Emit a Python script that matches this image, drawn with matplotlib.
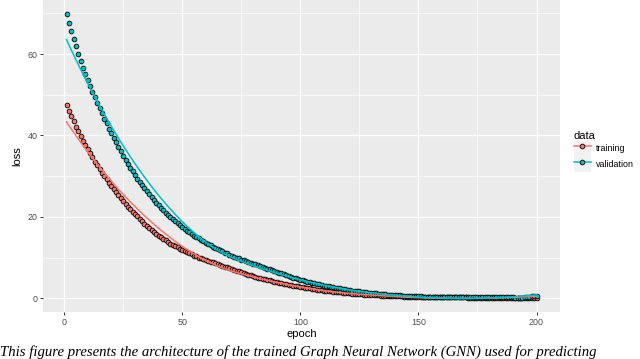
import matplotlib
matplotlib.use('Agg')

import matplotlib.pyplot as plt
from matplotlib.lines import Line2D
from matplotlib.patches import Rectangle
import numpy as np

# loss per epoch
epochs = np.arange(1, 201)

training = [
    47.4, 46.1, 44.8, 43.5, 42.2, 41.0, 39.8, 38.7, 37.7, 36.7,
    35.6, 34.6, 33.6, 32.7, 31.8, 30.9, 30.0, 29.2, 28.4, 27.6,
    26.8, 26.0, 25.3, 24.6, 23.9, 23.2, 22.5, 21.9, 21.3, 20.7,
    20.1, 19.5, 18.9, 18.3, 17.8, 17.3, 16.8, 16.3, 15.8, 15.4,
    15.0, 14.6, 14.2, 13.8, 13.4, 13.1, 12.8, 12.5, 12.2, 11.9,
    11.6, 11.3, 11.0, 10.8, 10.5, 10.3, 10.0, 9.8, 9.6, 9.4,
    9.2, 9.0, 8.8, 8.6, 8.4, 8.2, 8.0, 7.8, 7.6, 7.4,
    7.2, 7.0, 6.8, 6.6, 6.4, 6.2, 6.0, 5.8, 5.7, 5.5,
    5.3, 5.1, 5.0, 4.8, 4.7, 4.5, 4.4, 4.2, 4.1, 3.9,
    3.8, 3.7, 3.5, 3.4, 3.3, 3.2, 3.1, 3.0, 2.9, 2.8,
    2.7, 2.6, 2.5, 2.4, 2.3, 2.2, 2.1, 2.0, 1.95, 1.9,
    1.8, 1.75, 1.7, 1.6, 1.55, 1.5, 1.45, 1.4, 1.3, 1.25,
    1.2, 1.15, 1.1, 1.05, 1.0, 0.95, 0.9, 0.88, 0.85, 0.8,
    0.77, 0.74, 0.7, 0.67, 0.64, 0.61, 0.58, 0.55, 0.52, 0.5,
    0.48, 0.46, 0.44, 0.42, 0.4, 0.38, 0.36, 0.35, 0.34, 0.33,
    0.32, 0.31, 0.3, 0.29, 0.28, 0.27, 0.26, 0.25, 0.24, 0.24,
    0.23, 0.23, 0.22, 0.22, 0.21, 0.21, 0.2, 0.2, 0.19, 0.19,
    0.18, 0.18, 0.18, 0.17, 0.17, 0.17, 0.16, 0.16, 0.16, 0.15,
    0.15, 0.15, 0.15, 0.14, 0.14, 0.14, 0.14, 0.13, 0.13, 0.13,
    0.13, 0.12, 0.12, 0.12, 0.12, 0.12, 0.11, 0.11, 0.11, 0.11,
]

validation = [
    69.8, 67.7, 65.7, 63.7, 61.9, 60.1, 58.3, 56.6, 55.1, 53.6,
    52.1, 50.7, 49.4, 48.0, 46.7, 45.4, 44.1, 43.0, 41.7, 40.5,
    39.4, 38.3, 37.2, 36.1, 35.0, 34.0, 33.0, 32.1, 31.2, 30.3,
    29.4, 28.6, 27.8, 27.0, 26.3, 25.5, 24.8, 24.1, 23.5, 22.8,
    22.2, 21.6, 21.0, 20.5, 19.9, 19.4, 18.9, 18.4, 17.9, 17.5,
    17.0, 16.6, 16.2, 15.8, 15.4, 15.0, 14.7, 14.3, 14.0, 13.7,
    13.3, 13.0, 12.7, 12.4, 12.1, 11.8, 11.5, 11.2, 11.0, 10.7,
    10.5, 10.2, 10.0, 9.8, 9.5, 9.3, 9.1, 8.9, 8.7, 8.5,
    8.3, 8.1, 7.9, 7.7, 7.5, 7.3, 7.1, 6.9, 6.7, 6.5,
    6.3, 6.1, 5.9, 5.7, 5.5, 5.3, 5.1, 5.0, 4.8, 4.6,
    4.4, 4.3, 4.1, 4.0, 3.8, 3.7, 3.5, 3.4, 3.3, 3.1,
    3.0, 2.9, 2.8, 2.7, 2.6, 2.5, 2.4, 2.3, 2.2, 2.1,
    2.0, 1.9, 1.8, 1.75, 1.7, 1.6, 1.5, 1.45, 1.4, 1.3,
    1.25, 1.2, 1.1, 1.05, 1.0, 0.95, 0.9, 0.85, 0.8, 0.78,
    0.74, 0.7, 0.66, 0.62, 0.58, 0.55, 0.52, 0.5, 0.48, 0.46,
    0.44, 0.42, 0.4, 0.38, 0.37, 0.36, 0.35, 0.34, 0.33, 0.32,
    0.31, 0.3, 0.29, 0.28, 0.28, 0.27, 0.26, 0.26, 0.25, 0.25,
    0.24, 0.24, 0.23, 0.23, 0.23, 0.22, 0.22, 0.22, 0.21, 0.21,
    0.21, 0.2, 0.2, 0.2, 0.2, 0.19, 0.19, 0.19, 0.19, 0.19,
    0.18, 0.18, 0.18, 0.18, 0.2, 0.25, 0.35, 0.5, 0.6, 0.55,
]

series = ['training', 'validation']
colors = ['#F8766D', '#00BFC4']
caption = ('This figure presents the architecture of the trained Graph Neural '
           'Network (GNN) used for predicting')


def loess(x, y, xs, span=0.75):
    # local quadratic fit with tricube weights, like geom_smooth's default
    x = np.asarray(x, float)
    y = np.asarray(y, float)
    q = int(np.floor(len(x) * span))
    out = []
    for x0 in xs:
        d = np.abs(x - x0)
        h = np.sort(d)[q - 1]
        w = np.clip(1 - (d / h) ** 3, 0, None) ** 3
        A = np.vstack([np.ones_like(x), x - x0, (x - x0) ** 2]).T
        sw = np.sqrt(w)
        coef = np.linalg.lstsq(A * sw[:, None], y * sw, rcond=None)[0]
        out.append(coef[0])
    return np.array(out)


plt.rcParams['font.family'] = ['Liberation Sans', 'DejaVu Sans']

fig = plt.figure(figsize=(6.4, 3.59), dpi=100)
ax = fig.add_axes([43 / 640, 1 - 312 / 359, (560 - 43) / 640, 312 / 359])
ax.set_facecolor('#EBEBEB')

for name, vals, col in zip(series, [training, validation], colors):
    ax.plot(epochs, vals, linestyle='none', marker='o', markersize=3.4,
            markerfacecolor=col, markeredgecolor='black', markeredgewidth=0.6,
            zorder=3)
for name, vals, col in zip(series, [training, validation], colors):
    xs = np.linspace(epochs.min(), epochs.max(), 80)
    ax.plot(xs, loess(epochs, vals, xs), color=col, linewidth=1.1, zorder=4)

allv = np.concatenate([training, validation])
yr = allv.max() - allv.min()
ax.set_ylim(allv.min() - 0.05 * yr, allv.max() + 0.05 * yr)
ax.set_xlim(1 - 0.05 * 199, 200 + 0.05 * 199)

ax.set_xticks([0, 50, 100, 150, 200])
ax.set_yticks([0, 20, 40, 60])
ax.set_xticks([25, 75, 125, 175], minor=True)
ax.set_yticks([10, 30, 50, 70], minor=True)
ax.grid(which='major', color='white', linewidth=0.9)
ax.grid(which='minor', color='white', linewidth=0.45)
ax.set_axisbelow(True)
for s in ax.spines.values():
    s.set_visible(False)
ax.tick_params(which='major', length=2.5, width=0.7, color='#333333',
               labelsize=6.4, labelcolor='#4D4D4D', pad=1.5)
ax.tick_params(which='minor', length=0)

ax.set_xlabel('epoch', fontsize=8, labelpad=2)
ax.set_ylabel('loss', fontsize=8, labelpad=4)

handles = []
for col in colors:
    bg = Rectangle((0, 0), 1, 1, facecolor='#F2F2F2', edgecolor='none')
    ln = Line2D([], [], color=col, linewidth=1.1, marker='o', markersize=3.4,
                markerfacecolor=col, markeredgecolor='black', markeredgewidth=0.6)
    handles.append((bg, ln))
leg = fig.legend(handles, series, loc='upper left', bbox_to_anchor=(574 / 640, 1 - 131 / 359),
                 title='data', fontsize=6.4, title_fontsize=8, frameon=False,
                 handlelength=1.9, handleheight=2.3, labelspacing=0.0,
                 handletextpad=0.6, borderaxespad=0, borderpad=0,
                 alignment='left')

fig.text(0.0, 1 - 355.5 / 359, caption, ha='left', va='baseline',
         fontsize=10.6, fontstyle='italic', family='Liberation Serif')

fig.savefig('out.png', dpi=100)
